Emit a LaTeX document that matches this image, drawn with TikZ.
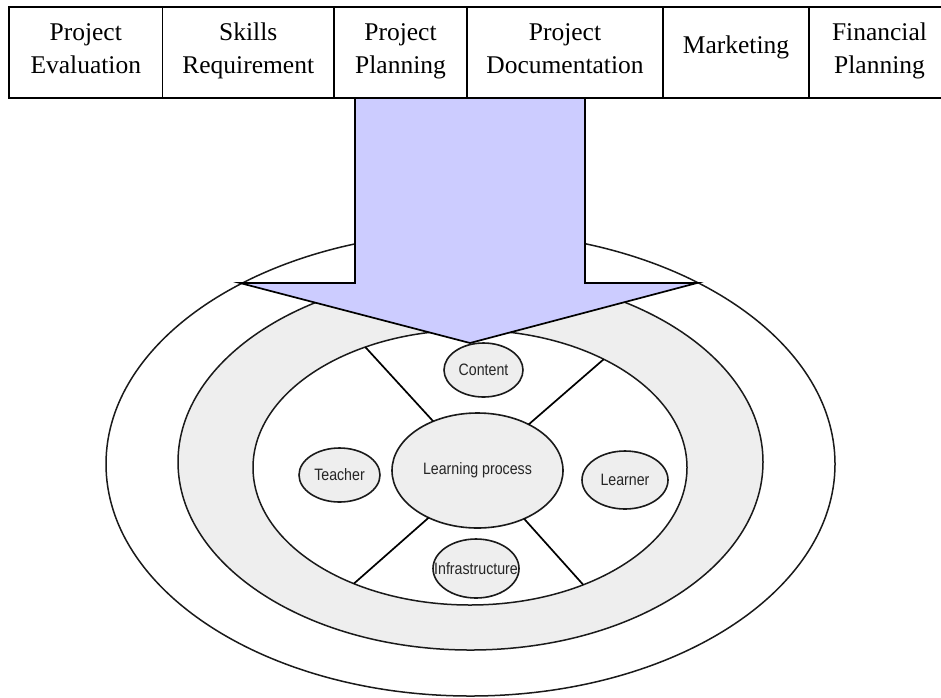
\documentclass[tikz,border=0pt]{standalone}
\usepackage{fontspec}
\setmainfont{Liberation Serif}
\newfontfamily\narrowsans[FakeStretch=0.86]{Liberation Sans}
\usetikzlibrary{shapes.geometric}
\definecolor{ringgray}{HTML}{EEEEEE}
\definecolor{arrowblue}{HTML}{CCCCFF}
\definecolor{ink}{HTML}{1A1A1A}
\newcommand{\nowidth}[1]{\makebox[0pt]{#1}}
\begin{document}
\begin{tikzpicture}[x=1pt,y=-1pt,
  ring/.style={ellipse, draw=ink, line width=1.5pt, inner sep=0pt, outer sep=0pt},
  bubble/.style={ellipse, draw=ink, line width=1.6pt, fill=ringgray, inner sep=0pt, outer sep=0pt,
    font=\narrowsans\fontsize{16.5}{18}\selectfont, text=black!85},
  divider/.style={draw=black, line width=1.7pt},
  topbox/.style={rectangle, draw=black, line width=1.5pt, minimum height=91pt, inner sep=0pt},
  boxtext/.style={inner sep=0pt, align=center, font=\fontsize{25.5}{33}\selectfont},
  bigarrow/.style={fill=arrowblue, draw=black, line width=1.7pt, line join=miter}
]
\useasboundingbox (0,0) rectangle (941,697);
\fill[white] (0,0) rectangle (941,697);
% rings
\node[ring, fill=white, minimum width=729pt, minimum height=464pt] (outer) at (470.5,464) {};
\node[ring, fill=ringgray, minimum width=585pt, minimum height=376pt] (middle) at (470.5,462) {};
\node[ring, fill=white, minimum width=434pt, minimum height=275pt] (inner) at (470,467.5) {};
% bubbles
\node[bubble, minimum width=171pt, minimum height=115pt] (lp) at (477.5,470.5) {\nowidth{Learning process}};
\node[bubble, minimum width=79pt, minimum height=54pt] (content) at (483.5,370) {\nowidth{Content}};
\node[bubble, minimum width=81pt, minimum height=54pt] (teacher) at (339.5,475) {\nowidth{Teacher}};
\node[bubble, minimum width=86pt, minimum height=58pt] (learner) at (625,480) {\nowidth{Learner}};
\node[bubble, minimum width=86pt, minimum height=59pt] (infra) at (476,568.5) {\nowidth{Infrastructure}};
% dividers
\draw[divider] (lp.132.5) -- (inner.131.4);
\draw[divider] (lp.42) -- (inner.39.9);
\draw[divider] (lp.224) -- (inner.225.6);
\draw[divider] (lp.314) -- (inner.314.1);
% big arrow
\draw[bigarrow] (355,98) -- (355,283) -- (240,283) -- (470,343) -- (697,283) -- (585,283) -- (585,98);
% top boxes
\node[topbox, minimum width=153.5pt] (pe) at (85.75,52.5) {};
\node[topbox, minimum width=171.5pt] (sr) at (248.25,52.5) {};
\node[topbox, minimum width=133pt] (pp) at (400.5,52.5) {};
\node[topbox, minimum width=196pt] (pd) at (565,52.5) {};
\node[topbox, minimum width=146pt] (mk) at (736,52.5) {};
\node[topbox, minimum width=141pt] (fp) at (879.5,52.5) {};
\node[boxtext] (pe-t) at (85.75,49.9) {Project\strut\\Evaluation\strut};
\node[boxtext] (sr-t) at (248.25,49.9) {Skills\strut\\Requirement\strut};
\node[boxtext] (pp-t) at (400.5,49.9) {Project\strut\\Planning\strut};
\node[boxtext] (pd-t) at (565,49.9) {Project\strut\\Documentation\strut};
\node[boxtext] (mk-t) at (736,46.4) {Marketing\strut};
\node[boxtext] (fp-t) at (879.5,49.9) {Financial\strut\\Planning\strut};
\end{tikzpicture}
\end{document}
